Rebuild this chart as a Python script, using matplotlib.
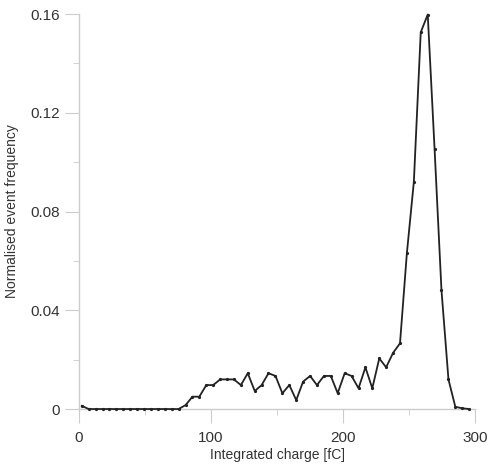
import matplotlib.pyplot as plt
from matplotlib.ticker import MultipleLocator

plt.rcParams['font.family'] = ['Liberation Sans', 'DejaVu Sans']

# bin centres [fC] and normalised frequency
charge = [2.1, 7.3, 12.5, 17.8, 23.0, 28.3, 33.5, 38.7, 44.0, 49.2,
          54.5, 59.7, 64.9, 70.2, 75.4, 80.7, 85.9, 91.1, 96.4, 101.6,
          106.9, 112.1, 117.3, 122.6, 127.8, 133.1, 138.3, 143.5, 148.8, 154.0,
          159.3, 164.5, 169.7, 175.0, 180.2, 185.5, 190.7, 195.9, 201.2, 206.4,
          211.7, 216.9, 222.1, 227.4, 232.6, 237.9, 243.1, 248.3, 253.6, 258.8,
          264.1, 269.3, 274.5, 279.8, 285.0, 290.3, 295.5]
freq = [0.0013, 0, 0, 0, 0, 0, 0, 0, 0, 0,
        0, 0, 0, 0, 0, 0.0016, 0.0050, 0.0050, 0.0097, 0.0097,
        0.0120, 0.0120, 0.0120, 0.0097, 0.0145, 0.0073, 0.0097, 0.0145, 0.0134, 0.0064,
        0.0097, 0.0036, 0.0111, 0.0134, 0.0097, 0.0134, 0.0134, 0.0064, 0.0145, 0.0134,
        0.0084, 0.0169, 0.0084, 0.0205, 0.0169, 0.0228, 0.0266, 0.0631, 0.0921, 0.1526,
        0.1598, 0.1052, 0.0482, 0.0120, 0.0009, 0.0003, 0.0]

fig = plt.figure(figsize=(4.97, 4.68), dpi=100)
ax = fig.add_axes([0.159, 0.126, 0.797, 0.844])

ax.plot(charge, freq, '-', color='#222222', lw=1.3, marker='o', ms=1.3,
        clip_on=False, zorder=3)

ax.set_xlim(0, 300)
ax.set_ylim(0, 0.16)
ax.xaxis.set_major_locator(MultipleLocator(100))
ax.xaxis.set_minor_locator(MultipleLocator(50))
ax.yaxis.set_minor_locator(MultipleLocator(0.02))
ax.set_yticks([0, 0.04, 0.08, 0.12, 0.16])
ax.set_yticklabels(['0', '0.04', '0.08', '0.12', '0.16'])

for s in ['top', 'right']:
    ax.spines[s].set_visible(False)
for s in ['left', 'bottom']:
    ax.spines[s].set_color('#cccccc')
    ax.spines[s].set_linewidth(1)

ax.tick_params(which='major', direction='out', length=10, color='#cccccc',
               labelsize=11, labelcolor='#333333')
ax.tick_params(which='minor', direction='out', length=4.5, color='#cccccc')
ax.tick_params(axis='y', pad=4)
ax.tick_params(axis='x', pad=6)

ax.set_xlabel('Integrated charge [fC]', fontsize=10, color='#333333', labelpad=2)
ax.set_ylabel('Normalised event frequency', fontsize=10, color='#333333', labelpad=8)

fig.savefig('out.png', dpi=100)
